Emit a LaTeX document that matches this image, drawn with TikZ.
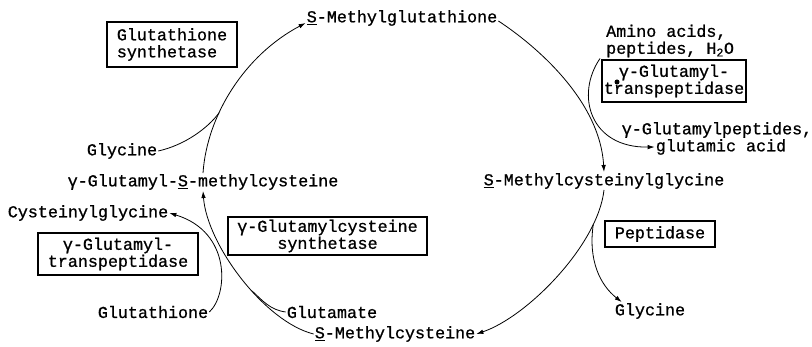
\documentclass[tikz,border=0pt]{standalone}
\usepackage{fontspec}
\setmainfont{Liberation Mono}[FakeBold=0.9]
\usetikzlibrary{arrows.meta}

\begin{document}
\begin{tikzpicture}[x=1pt, y=-1pt]
    % --- DEFINE STYLES ---
    % Style for compound names
    \tikzstyle{cmpd} = [inner sep=1pt, font=\fontsize{16.7}{17}\selectfont]
    % Style for enzyme boxes
    \tikzstyle{enzyme} = [cmpd, draw, line width=1.2pt, inner sep=0pt, align=center]
    % Style for reaction arrows
    \tikzstyle{rxn} = [line width=0.8pt, -{Latex[length=7pt, width=4.5pt]}]
    % Style for side lines that join a reaction
    \tikzstyle{side} = [line width=0.8pt]

    \useasboundingbox (0,0) rectangle (812,347);

    % --- COMPOUNDS ---
    \node[cmpd] (smg) at (402,18) {\underline{S}-Methylglutathione};
    \node[cmpd] (smcg) at (604,181) {\underline{S}-Methylcysteinylglycine};
    \node[cmpd] (smc) at (395,334) {\underline{S}-Methylcysteine};
    \node[cmpd] (gsmc) at (203,182) {γ-Glutamyl-\underline{S}-methylcysteine};
    \node[cmpd] (gly1) at (122,151) {Glycine};
    \node[cmpd] (cyg) at (88,213) {Cysteinylglycine};
    \node[cmpd] (gsh) at (153,312) {Glutathione};
    \node[cmpd] (glu) at (332,312) {Glutamate};
    \node[cmpd] (gly2) at (650,311) {Glycine};
    \node[cmpd, align=left, anchor=west] (amino) at (605,41) {Amino acids,\\peptides, H\textsubscript{2}O};
    \node[cmpd] (gpep) at (717,130) {γ-Glutamylpeptides,};
    \node[cmpd] (glac) at (721,147) {glutamic acid};

    % --- ENZYMES ---
    \node[enzyme, align=left, minimum width=130pt, minimum height=45pt] (gss) at (172,44.5) {Glutathione\\synthetase};
    \node[enzyme, minimum width=160pt, minimum height=42pt] (gtl) at (118,254) {γ-Glutamyl-\\transpeptidase};
    \node[enzyme, minimum width=199pt, minimum height=38pt] (gcs) at (327.5,236) {γ-Glutamylcysteine\\synthetase};
    \node[enzyme, minimum width=110pt, minimum height=26pt] (pep) at (660,234) {Peptidase};
    \node[enzyme, minimum width=144pt, minimum height=42pt] (gtr) at (674,81) {γ-Glutamyl-\\transpeptidase};
    \fill (617,82) circle (2.5pt);

    % --- CYCLE ---
    \draw[rxn] ([yshift=-3pt]smg.east) .. controls (535,45) and (600,100) .. (smcg.north);
    \draw[rxn] (smcg.south) .. controls (598,245) and (527,317) .. (smc.east) coordinate[pos=0.2] (b3);
    \draw[rxn] (smc.west) .. controls (265,322) and (207,245) .. (gsmc.south) coordinate[pos=0.42] (b4);
    \draw[rxn] (gsmc.north) .. controls (207,115) and (245,55) .. ([yshift=-5pt]smg.west) coordinate[pos=0.35] (b5);

    % --- SIDE REACTIONS ---
    \draw[side] (gly1.east) .. controls (185,145) and (208,128) .. (b5);
    \draw[side] (glu.west) .. controls (270,310) and (262,300) .. (b4);
    \draw[rxn] (gsh.east) .. controls (228,295) and (232,232) .. (cyg.east);
    \draw[rxn] ([xshift=-5pt]amino.south west) .. controls (575,95) and (590,148) .. (glac.west);
    \draw[rxn] (b3) .. controls (588,260) and (600,285) .. ([xshift=8pt]gly2.north west);
\end{tikzpicture}
\end{document}
